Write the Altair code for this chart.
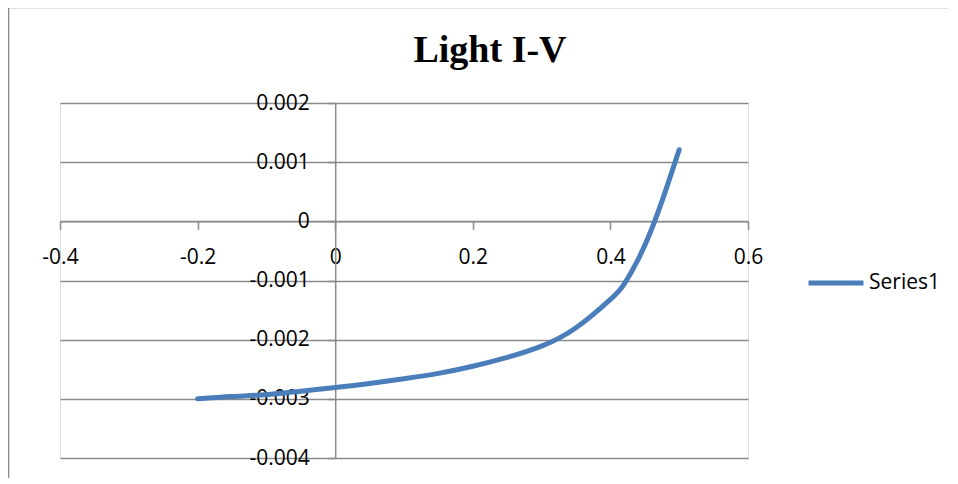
import altair as alt
import pandas as pd

# Data
voltage = [-0.2, -0.15, -0.1, -0.05, 0.0, 0.05, 0.1, 0.15, 0.2, 0.25, 0.3, 0.35,
           0.4, 0.42, 0.44, 0.46, 0.48, 0.5]
current = [-0.00300, -0.00296, -0.00293, -0.00287, -0.00281, -0.00274, -0.00266,
           -0.00257, -0.00245, -0.00230, -0.00211, -0.00180, -0.00132, -0.00106,
           -0.00065, -0.00013, 0.00051, 0.00121]
series_name = "Series1"
chart_title = "Light I-V"
x_ticks = [-0.4, -0.2, 0, 0.2, 0.4, 0.6]
y_ticks = [0.002, 0.001, 0, -0.001, -0.002, -0.003, -0.004]

df = pd.DataFrame({"V": voltage, "I": current, "series": [series_name] * len(voltage)})

W, H = 688, 355
x_dom = [-0.4, 0.6]
y_dom = [-0.004, 0.002]
# offsets so the axes cross at zero
y_axis_off = -W * (0 - x_dom[0]) / (x_dom[1] - x_dom[0])
x_axis_off = -H * (0 - y_dom[0]) / (y_dom[1] - y_dom[0])

GRID = "#8a8a8a"
FONT = "Open Sans"

frame = alt.Chart(pd.DataFrame({"a": [0]})).mark_rect(
    fillOpacity=0, stroke=GRID, strokeWidth=1.6
).encode(
    x=alt.value(-51.5), x2=alt.value(1200),
    y=alt.value(-95.5), y2=alt.value(800),
)

title = alt.Chart(pd.DataFrame({"t": [chart_title]})).mark_text(
    font="Liberation Serif", fontWeight="bold", fontSize=38, color="black",
    align="center", baseline="alphabetic"
).encode(text="t:N", x=alt.value(430), y=alt.value(-41.5))

line = alt.Chart(df).mark_line(
    interpolate="natural", strokeWidth=5, strokeCap="round"
).encode(
    x=alt.X("V:Q", scale=alt.Scale(domain=x_dom, nice=False, zero=False),
            axis=alt.Axis(values=x_ticks, title=None, grid=False, offset=x_axis_off,
                          labelExpr="'' + datum.value", tickSize=8, labelPadding=17,
                          domainColor=GRID, tickColor=GRID, domainWidth=1.5, tickWidth=1.5,
                          labelFont=FONT, labelFontSize=21, labelColor="black",
                          labelFlush=False, labelOverlap=False)),
    y=alt.Y("I:Q", scale=alt.Scale(domain=y_dom, nice=False, zero=False),
            axis=alt.Axis(values=y_ticks, title=None, grid=True, offset=y_axis_off,
                          gridColor=GRID, gridWidth=1.5,
                          labelExpr="'' + datum.value", tickSize=8, labelPadding=18,
                          domainColor=GRID, tickColor=GRID, domainWidth=1.5, tickWidth=1.5,
                          labelFont=FONT, labelFontSize=21, labelColor="black",
                          labelFlush=False, labelOverlap=False)),
    color=alt.Color("series:N", scale=alt.Scale(range=["#4A7EBB"]),
                    legend=alt.Legend(title=None, orient="none", legendX=746, legendY=150,
                                      symbolType="stroke", symbolSize=3025,
                                      symbolStrokeWidth=5, labelFont=FONT,
                                      labelFontSize=21, labelColor="black",
                                      labelOffset=3, padding=0)),
)

chart = alt.layer(frame, title, line).properties(
    width=W, height=H,
    padding={"left": 52, "top": 95, "right": 200, "bottom": 20},
    autosize=alt.AutoSizeParams(type="none"),
).configure_view(stroke=None).configure(background="white")

chart.save("out.html", embed_options={"renderer": "svg", "actions": False})
